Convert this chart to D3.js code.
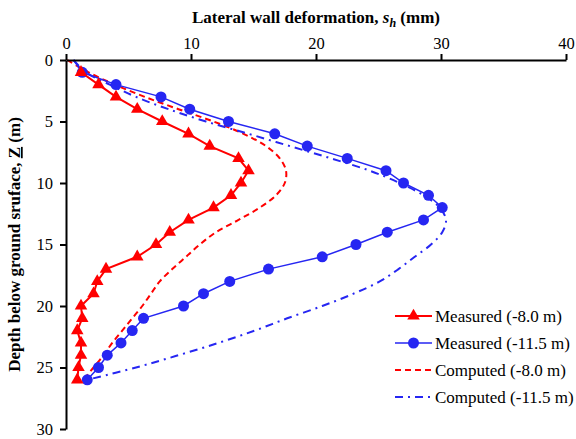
<!DOCTYPE html>
<html lang="en">
<head>
    <meta charset="UTF-8">
    <title>Lateral wall deformation vs depth</title>
    <script src="https://d3js.org/d3.v7.min.js"></script>
    <style>
        body { margin: 0; background: #fff; }
        text { font-family: "Liberation Serif", "Times New Roman", serif; }
    </style>
</head>
<body>
    <svg id="chart" width="576" height="439"></svg>

    <script>
        // Depths (m) shared by all series
        var depths = d3.range(0, 27);

        // Measured (-8.0 m): no reading at depth 0
        var measured8 = [null, 1.2, 2.6, 4.0, 5.7, 7.7, 9.8, 11.5, 13.8, 14.6, 14.0, 13.2, 11.8, 9.8,
                         8.3, 7.2, 5.7, 3.2, 2.5, 2.2, 1.2, 1.3, 0.9, 1.2, 1.2, 1.0, 0.9];
        // Measured (-11.5 m): line reaches the surface, markers from 1 m
        var measured115 = [0.6, 1.3, 4.0, 7.6, 9.9, 13.0, 16.7, 19.3, 22.5, 25.6, 27.0, 29.0, 30.1, 28.6,
                           25.7, 23.2, 20.5, 16.2, 13.1, 11.0, 9.4, 6.2, 5.3, 4.4, 3.3, 2.6, 1.7];
        var computed8 = [0.1, 1.8, 3.9, 6.3, 9.0, 11.8, 14.2, 16.0, 17.1, 17.6, 17.5, 16.8, 15.5, 13.8,
                         12.0, 10.7, 9.6, 8.5, 7.5, 6.8, 6.1, 5.3, 4.5, 3.7, 3.0, 2.2, 1.4];
        var computed115 = [0.6, 1.6, 3.5, 5.6, 8.2, 11.2, 14.6, 17.9, 21.2, 24.3, 26.7, 28.6, 29.9, 30.4,
                           30.1, 29.2, 27.9, 26.6, 25.1, 23.0, 20.5, 17.7, 15.1, 12.2, 9.0, 5.6, 1.7];

        var xTicks = [0, 10, 20, 30, 40];
        var yTicks = [0, 5, 10, 15, 20, 25, 30];

        var seriesNames = ["Measured (-8.0 m)", "Measured (-11.5 m)", "Computed (-8.0 m)", "Computed (-11.5 m)"];

        var red = "#ff0000", blue = "#2626f2";

        var margin = { top: 60, right: 10, bottom: 10, left: 66 };
        var width = 500, height = 369;

        var svg = d3.select("#chart");
        var g = svg.append("g")
                   .attr("transform", "translate(" + margin.left + "," + margin.top + ")");

        var x = d3.scaleLinear().domain([0, 40]).range([0, width]);
        var y = d3.scaleLinear().domain([0, 30]).range([0, height]);

        function pts(vals) {
            return depths.map(function(d, i) { return { z: d, v: vals[i] }; })
                         .filter(function(p) { return p.v !== null; });
        }

        var straight = d3.line().x(function(p) { return x(p.v); }).y(function(p) { return y(p.z); });
        var smooth = d3.line().curve(d3.curveCatmullRom.alpha(0.5))
                       .x(function(p) { return x(p.v); }).y(function(p) { return y(p.z); });

        // Computed curves
        g.append("path").attr("d", smooth(pts(computed8)))
         .attr("fill", "none").attr("stroke", red).attr("stroke-width", 2)
         .attr("stroke-dasharray", "6,4");
        g.append("path").attr("d", smooth(pts(computed115)))
         .attr("fill", "none").attr("stroke", blue).attr("stroke-width", 2)
         .attr("stroke-dasharray", "8,5,2,5");

        // Measured (-11.5 m)
        g.append("path").attr("d", straight(pts(measured115)))
         .attr("fill", "none").attr("stroke", blue).attr("stroke-width", 1.5);
        g.selectAll(".circ")
         .data(pts(measured115).filter(function(p) { return p.z > 0; }))
         .enter().append("circle")
         .attr("cx", function(p) { return x(p.v); })
         .attr("cy", function(p) { return y(p.z); })
         .attr("r", 5.5)
         .attr("fill", blue);

        // Measured (-8.0 m)
        var tri = d3.symbol().type(d3.symbolTriangle).size(68);
        g.append("path").attr("d", straight(pts(measured8)))
         .attr("fill", "none").attr("stroke", red).attr("stroke-width", 2);
        g.selectAll(".tri")
         .data(pts(measured8))
         .enter().append("path")
         .attr("d", tri)
         .attr("transform", function(p) { return "translate(" + x(p.v) + "," + y(p.z) + ")"; })
         .attr("fill", red);

        // Axes
        var xAxis = g.append("g")
                     .call(d3.axisTop(x).tickValues(xTicks).tickSize(6).tickSizeOuter(0).tickPadding(5));
        var yAxis = g.append("g")
                     .call(d3.axisLeft(y).tickValues(yTicks).tickSize(6).tickSizeOuter(0).tickPadding(7));
        [xAxis, yAxis].forEach(function(a) {
            a.attr("font-family", null);
            a.select(".domain").attr("stroke", "#000").attr("stroke-width", 2);
            a.selectAll(".tick line").attr("stroke", "#000").attr("stroke-width", 2);
            a.selectAll(".tick text").attr("fill", "#000").style("font-size", "16.5px");
        });

        // Axis titles
        var xt = svg.append("text")
                    .attr("x", margin.left + width / 2).attr("y", 23)
                    .attr("text-anchor", "middle")
                    .style("font-size", "17px").style("font-weight", "bold");
        xt.append("tspan").text("Lateral wall deformation, ");
        xt.append("tspan").style("font-style", "italic").text("s");
        xt.append("tspan").style("font-style", "italic").style("font-size", "12px")
          .attr("dy", 4).text("h");
        xt.append("tspan").attr("dy", -4).text(" (mm)");

        var yt = svg.append("text")
                    .attr("transform", "translate(20," + (margin.top + height / 2) + ") rotate(-90)")
                    .attr("text-anchor", "middle")
                    .style("font-size", "17px").style("font-weight", "bold");
        yt.append("tspan").text("Depth below ground sruface, ");
        yt.append("tspan").style("text-decoration", "underline").text("Z");
        yt.append("tspan").text(" (m)");

        // Legend
        var legend = svg.selectAll(".legend")
                        .data(seriesNames)
                        .enter().append("g")
                        .attr("class", "legend")
                        .attr("transform", function(d, i) { return "translate(395," + (316 + i * 27) + ")"; });

        legend.append("line")
              .attr("x1", 0).attr("x2", 37).attr("y1", 0).attr("y2", 0)
              .attr("stroke", function(d, i) { return i % 2 === 0 ? red : blue; })
              .attr("stroke-width", function(d, i) { return i === 1 ? 1.5 : 2; })
              .attr("stroke-dasharray", function(d, i) { return i === 2 ? "6,4" : i === 3 ? "8,5,2,5" : null; });
        legend.filter(function(d, i) { return i === 0; }).append("path")
              .attr("d", tri).attr("transform", "translate(18.5,0)").attr("fill", red);
        legend.filter(function(d, i) { return i === 1; }).append("circle")
              .attr("cx", 18.5).attr("r", 5.5).attr("fill", blue);

        legend.append("text")
              .attr("x", 40).attr("y", 0).attr("dy", "0.35em")
              .style("font-size", "17px")
              .text(function(d) { return d; });
    </script>
</body>
</html>
